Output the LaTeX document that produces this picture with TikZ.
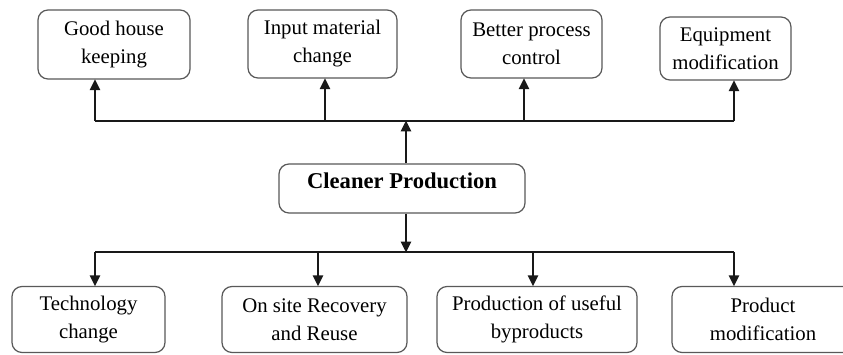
\documentclass[tikz,border=0pt]{standalone}
\usepackage{fontspec}
\setmainfont{Liberation Serif}
\usetikzlibrary{arrows.meta}
\begin{document}
\begin{tikzpicture}[x=1pt,y=1pt,
  box/.style={draw=black!65, line width=1.2pt, rounded corners=10pt, fill=white,
    align=center, inner sep=0pt, text=black,
    font=\fontsize{20.8}{28}\selectfont},
  bus/.style={line width=2.6pt, black!90},
  arr/.style={line width=2.6pt, black!90, -{Triangle[width=10pt,length=11pt]}, shorten >=-0.5pt}]
\useasboundingbox (0,0) rectangle (843,354);
\clip (0,0) rectangle (843,354);
\fill[white] (0,0) rectangle (843,354);
% top boxes
\node[box, minimum width=152pt, minimum height=69pt] (g1) at (114,309.5) {Good house\\keeping};
\node[box, minimum width=149pt, minimum height=68pt] (g2) at (322.5,310) {Input material\\change};
\node[box, minimum width=141pt, minimum height=68pt] (g3) at (531.5,310) {Better process\\control};
\node[box, minimum width=131pt, minimum height=63pt] (g4) at (725.5,305.5) {Equipment\\modification};
% centre
\node[box, minimum width=246pt, minimum height=49pt, font=\fontsize{22.6}{28}\selectfont\bfseries] (cp) at (402,165.5) {\raisebox{0pt}[0pt][0pt]{Cleaner Production}};
% bottom boxes
\node[box, minimum width=153pt, minimum height=66pt] (b1) at (88.5,34.5) {Technology\\change};
\node[box, minimum width=185pt, minimum height=66pt] (b2) at (314.5,34.5) {On site Recovery\\and Reuse};
\node[box, minimum width=200pt, minimum height=66pt] (b3) at (537,34.5) {Production of useful\\byproducts};
\node[box, minimum width=182pt, minimum height=66pt] (b4) at (763,34.5) {Product\\modification};
% top bus
\coordinate (t1) at (95,233);
\coordinate (t2) at (325,233);
\coordinate (t3) at (524,233);
\coordinate (t4) at (734,233);
\coordinate (tc) at (406,233);
\draw[bus] (t1) -- (t4);
\draw[arr] (t1) -- (t1 |- g1.south);
\draw[arr] (t2) -- (t2 |- g2.south);
\draw[arr] (t3) -- (t3 |- g3.south);
\draw[arr] (t4) -- (t4 |- g4.south);
\draw[arr] (cp.north -| tc) -- (tc);
% bottom bus
\coordinate (d1) at (95,102);
\coordinate (d2) at (318,102);
\coordinate (d3) at (533,102);
\coordinate (d4) at (734,102);
\coordinate (dc) at (406,102);
\draw[bus] (d1) -- (d4);
\draw[arr] (cp.south -| dc) -- (dc);
\draw[arr] (d1) -- (d1 |- b1.north);
\draw[arr] (d2) -- (d2 |- b2.north);
\draw[arr] (d3) -- (d3 |- b3.north);
\draw[arr] (d4) -- (d4 |- b4.north);
\end{tikzpicture}
\end{document}
